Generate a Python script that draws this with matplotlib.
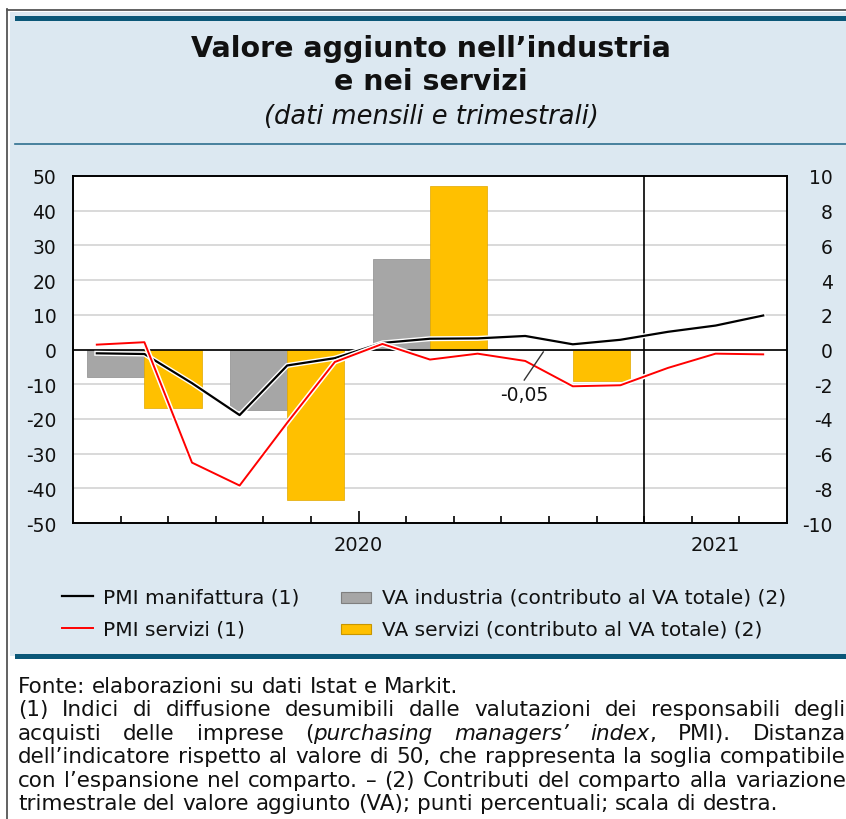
import matplotlib
matplotlib.use('Agg')
import matplotlib.pyplot as plt
import matplotlib.patheffects as pe
from matplotlib.lines import Line2D
from matplotlib.patches import Rectangle
from matplotlib import transforms

plt.rcParams['font.family'] = 'DejaVu Sans'
plt.rcParams['axes.unicode_minus'] = False

# PMI, distanza da 50, dati mensili gen 2020 - mar 2021 (scala di sinistra)
mesi = ['gen 20', 'feb 20', 'mar 20', 'apr 20', 'mag 20', 'giu 20', 'lug 20', 'ago 20',
        'set 20', 'ott 20', 'nov 20', 'dic 20', 'gen 21', 'feb 21', 'mar 21']
pmi_manifattura = [-1.1, -1.3, -9.7, -18.9, -4.6, -2.5, 1.9, 3.1, 3.2, 3.9, 1.5, 2.8, 5.1, 6.9, 9.8]
pmi_servizi = [1.4, 2.1, -32.6, -39.2, -21.1, -3.6, 1.6, -2.9, -1.2, -3.3, -10.6, -10.3, -5.3, -1.2, -1.4]

# contributi al VA totale, dati trimestrali 2020 (scala di destra)
trimestri = ['I 2020', 'II 2020', 'III 2020', 'IV 2020']
mese_centrale = [1, 4, 7, 10]  # indice del mese centrale di ciascun trimestre
va_industria = [-1.6, -3.5, 5.2, -0.05]
va_servizi = [-3.4, -8.7, 9.4, -1.8]

anni = ['2020', '2021']
anni_centro = [5.5, 13]

W, H = 846, 820
def fx(x):
    return x / W
def fy(y):
    return 1 - y / H

fig = plt.figure(figsize=(W / 100, H / 100), dpi=100)

# cornice e fondo azzurro
blu = '#0B5778'
fig.add_artist(Rectangle((fx(10), fy(657)), fx(846) - fx(10), fy(13) - fy(657),
                         transform=fig.transFigure, facecolor='#DCE8F1', edgecolor='none', zorder=0))
fig.add_artist(Rectangle((fx(15), fy(22)), fx(846) - fx(15), fy(17) - fy(22),
                         transform=fig.transFigure, facecolor=blu, edgecolor='none', zorder=1))
fig.add_artist(Rectangle((fx(15), fy(660)), fx(846) - fx(15), fy(655) - fy(660),
                         transform=fig.transFigure, facecolor=blu, edgecolor='none', zorder=1))
fig.add_artist(Line2D([fx(15), fx(846)], [fy(145), fy(145)], transform=fig.transFigure,
                      color='#2F6F8F', lw=1.2))
fig.add_artist(Line2D([fx(7), fx(846)], [fy(10.5), fy(10.5)], transform=fig.transFigure,
                      color='#555555', lw=1.3))
fig.add_artist(Line2D([fx(7), fx(7)], [fy(10), fy(820)], transform=fig.transFigure,
                      color='#555555', lw=1.3))

# titolo
tc = '#111111'
fig.text(fx(431), fy(57), 'Valore aggiunto nell’industria', ha='center', va='baseline',
         fontsize=20.5, fontweight='bold', color=tc)
fig.text(fx(431), fy(90), 'e nei servizi', ha='center', va='baseline',
         fontsize=20.5, fontweight='bold', color=tc)
fig.text(fx(431), fy(124), '(dati mensili e trimestrali)', ha='center', va='baseline',
         fontsize=18.5, style='italic', color=tc)

# grafico
ax = fig.add_axes([fx(73), fy(524), fx(787) - fx(73), fy(177) - fy(524)])
ax2 = ax.twinx()
ax.set_zorder(2)
ax2.set_zorder(1)
ax.patch.set_visible(False)
ax2.patch.set_visible(True)
ax2.patch.set_facecolor('white')

x_mesi = list(range(len(mesi)))
x_ind = [m - 0.6 for m in mese_centrale]
x_ser = [m + 0.6 for m in mese_centrale]
ax2.bar(x_ind, va_industria, width=1.2, color='#A6A6A6', edgecolor='#8C8C8C', lw=0.5, zorder=2)
ax2.bar(x_ser, va_servizi, width=1.2, color='#FFC000', edgecolor='#E0A800', lw=0.5, zorder=2)
ax2.axhline(0, color='black', lw=1.2, zorder=3)
ax2.axvline(11.5, color='black', lw=1.2, zorder=3)
ax2.set_axisbelow(True)
ax2.grid(axis='y', color='#D9D9D9', lw=1.4)

alone = [pe.Stroke(linewidth=3.6, foreground='white'), pe.Normal()]
ax.plot(x_mesi, pmi_manifattura, color='black', lw=1.6, path_effects=alone, zorder=4)
ax.plot(x_mesi, pmi_servizi, color='#FF0000', lw=1.4, path_effects=alone, zorder=5)

ax.set_xlim(-0.5, 14.5)
ax.set_ylim(-50, 50)
ax2.set_ylim(-10, 10)
ax.set_yticks(range(-50, 51, 10))
ax2.set_yticks(range(-10, 11, 2))
ax.tick_params(axis='y', length=0, pad=12, labelsize=13.5, labelcolor=tc)
ax2.tick_params(axis='y', length=0, pad=33, labelsize=13.5, labelcolor=tc)
for lbl in ax2.get_yticklabels():
    lbl.set_horizontalalignment('right')

confini = [i + 0.5 for i in range(14) if i != 5]
ax.set_xticks(confini)
ax.set_xticks([5.5], minor=True)
ax.set_xticklabels([])
ax.tick_params(axis='x', which='major', direction='in', length=5, width=1.2, color='black')
ax.tick_params(axis='x', which='minor', direction='in', length=9, width=1.2, color='black')
for a in (ax, ax2):
    for s in a.spines.values():
        s.set_color('black')
        s.set_linewidth(1.2)

bl = transforms.blended_transform_factory(ax.transData, ax.transAxes)
for anno, xc in zip(anni, anni_centro):
    ax.text(xc, -0.063, anno, transform=bl, ha='center', va='center', fontsize=14, color=tc)

# etichetta del valore VA industria nel IV trimestre
ax.plot([8.98, 9.38], [-8.8, -0.7], color='#333333', lw=1.0, zorder=6)
ax.text(8.98, -12.9, f'{va_industria[3]:.2f}'.replace('.', ','), ha='center', va='center',
        fontsize=13.5, color=tc, zorder=6)

# legenda
fs_leg = 14.5
fig.add_artist(Line2D([fx(62), fx(93)], [fy(597), fy(597)], transform=fig.transFigure, color='black', lw=1.6))
fig.add_artist(Line2D([fx(62), fx(93)], [fy(629), fy(629)], transform=fig.transFigure, color='#FF0000', lw=1.4))
fig.add_artist(Rectangle((fx(341), fy(604)), fx(371) - fx(341), fy(593) - fy(604), transform=fig.transFigure,
                         facecolor='#A6A6A6', edgecolor='#7F7F7F', lw=0.8))
fig.add_artist(Rectangle((fx(341), fy(635)), fx(371) - fx(341), fy(625) - fy(635), transform=fig.transFigure,
                         facecolor='#FFC000', edgecolor='#C89600', lw=0.8))
fig.text(fx(103), fy(598), 'PMI manifattura (1)', va='center', fontsize=fs_leg, color=tc)
fig.text(fx(103), fy(630), 'PMI servizi (1)', va='center', fontsize=fs_leg, color=tc)
fig.text(fx(382), fy(598), 'VA industria (contributo al VA totale) (2)', va='center', fontsize=fs_leg, color=tc)
fig.text(fx(382), fy(630), 'VA servizi (contributo al VA totale) (2)', va='center', fontsize=fs_leg, color=tc)

# note (testo giustificato; *...* = corsivo)
note = [
    ('Fonte: elaborazioni su dati Istat e Markit.', False),
    ('(1) Indici di diffusione desumibili dalle valutazioni dei responsabili degli', True),
    ('acquisti delle imprese (*purchasing managers’ index*, PMI). Distanza', True),
    ('dell’indicatore rispetto al valore di 50, che rappresenta la soglia compatibile', True),
    ('con l’espansione nel comparto. – (2) Contributi del comparto alla variazione', True),
    ('trimestrale del valore aggiunto (VA); punti percentuali; scala di destra.', False),
]
fs_note = 15.5
renderer = fig.canvas.get_renderer()
y0 = 693
corsivo = False
for i, (riga, giust) in enumerate(note):
    y = y0 + i * 23.5
    parole = []
    for parola in riga.split(' '):
        pezzi = []
        for k, p in enumerate(parola.split('*')):
            if k > 0:
                corsivo = not corsivo
            if p:
                t = fig.text(0, fy(y), p, va='baseline', fontsize=fs_note, color=tc,
                             style='italic' if corsivo else 'normal')
                pezzi.append((t, t.get_window_extent(renderer).width))
        parole.append(pezzi)
    larghezze = [sum(w for _, w in pz) for pz in parole]
    if giust:
        gap = (846 - 18 - sum(larghezze)) / (len(parole) - 1)
    else:
        gap = 0.318 * fs_note * 100 / 72
    x = 18
    for pz, lw_ in zip(parole, larghezze):
        xx = x
        for t, w in pz:
            t.set_x(fx(xx))
            xx += w
        x += lw_ + gap

fig.savefig('out.png', dpi=100)
